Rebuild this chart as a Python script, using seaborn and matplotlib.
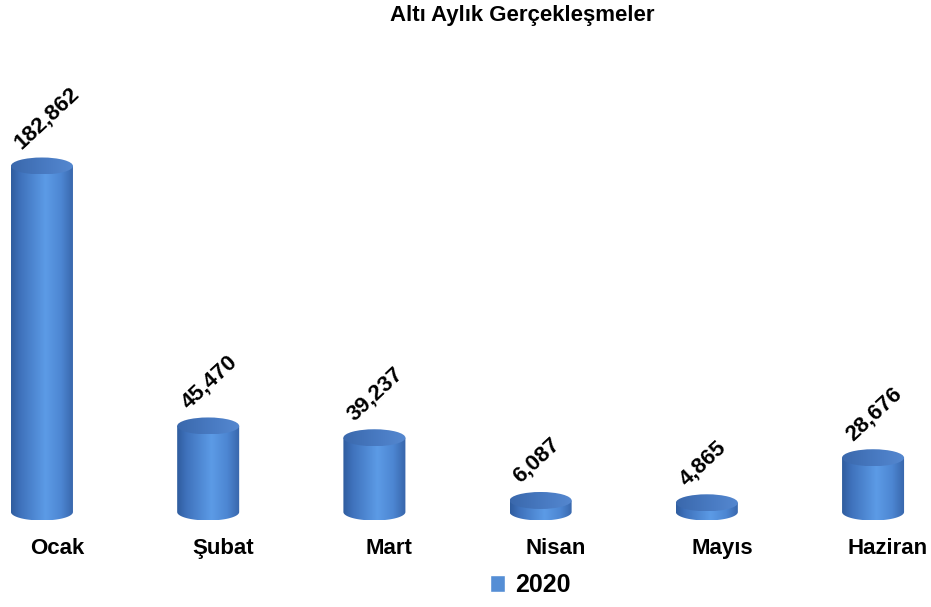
import numpy as np
import pandas as pd
import matplotlib
matplotlib.use("Agg")
import matplotlib.pyplot as plt
import seaborn as sns
from matplotlib.patches import Ellipse, PathPatch
from matplotlib.path import Path
from matplotlib.colors import LinearSegmentedColormap
from matplotlib.transforms import ScaledTranslation

months = ["Ocak", "Şubat", "Mart", "Nisan", "Mayıs", "Haziran"]
values = [182862, 45470, 39237, 6087, 4865, 28676]
year = ["2020"] * len(months)
title = "Altı Aylık Gerçekleşmeler"

df = pd.DataFrame({"Ay": months, "Değer": values, "Yıl": year})

sns.set_theme(style="white")
plt.rcParams["font.family"] = ["Liberation Sans", "DejaVu Sans"]

W, H = 931, 607
fig = plt.figure(figsize=(W / 100, H / 100), dpi=100)
ax = fig.add_axes([0, 77 / H, 1, 530 / H])

base = "#558ED5"
sns.barplot(data=df, x="Ay", y="Değer", hue="Yıl", palette={"2020": base},
            dodge=False, width=0.373, ax=ax, legend=True)

# scale: y=0 at pixel 512 from top, 528.5 units per pixel
upp = 528.5
ax.set_ylim(-18 * upp, 512 * upp)
spacing = 166.4
ax.set_xlim(-42 / spacing, 5 + (931 - 873) / spacing)

body_cmap = LinearSegmentedColormap.from_list(
    "body", [(0.0, "#2F5C9E"), (0.15, "#3F72BC"), (0.55, "#5C9BE6"),
             (0.8, "#4D86D2"), (1.0, "#3765AA")])
top_cmap = LinearSegmentedColormap.from_list(
    "top", [(0.0, "#3A68AC"), (0.6, "#4A7CC4"), (1.0, "#5588D0")])

eh = 17 * upp  # ellipse height in data units
grad = np.linspace(0, 1, 256).reshape(1, -1)

for bar in list(ax.patches):
    x0 = bar.get_x()
    w = bar.get_width()
    h = bar.get_height()
    if w == 0:
        continue
    cx = x0 + w / 2
    bar.set_facecolor("none")
    bar.set_edgecolor("none")
    # body path with rounded bottom
    t = np.linspace(np.pi, 2 * np.pi, 60)
    xs = cx + (w / 2) * np.cos(t)
    ys = (eh / 2) * np.sin(t)
    verts = list(zip(xs, ys)) + [(x0 + w, h), (x0, h), (xs[0], ys[0])]
    codes = [Path.MOVETO] + [Path.LINETO] * (len(verts) - 2) + [Path.CLOSEPOLY]
    body = PathPatch(Path(verts, codes), facecolor="none", edgecolor="none")
    ax.add_patch(body)
    im = ax.imshow(grad, cmap=body_cmap, extent=[x0, x0 + w, -eh / 2, h],
                   aspect="auto", zorder=2, interpolation="bicubic")
    im.set_clip_path(body)
    # top ellipse
    top = Ellipse((cx, h), w, eh, facecolor="none", edgecolor="none")
    ax.add_patch(top)
    im2 = ax.imshow(grad, cmap=top_cmap, extent=[x0, x0 + w, h - eh / 2, h + eh / 2],
                    aspect="auto", zorder=3, interpolation="bicubic")
    im2.set_clip_path(top)
    ax.annotate(f"{int(round(h)):,}", xy=(cx, h), xytext=(-17, 13),
                textcoords="offset pixels", rotation=43, rotation_mode="anchor",
                ha="left", va="bottom", fontsize=16, fontweight="bold",
                color="black", zorder=5)

ax.set_xlabel("")
ax.set_ylabel("")
ax.set_yticks([])
ax.tick_params(axis="x", length=0, pad=6, labelsize=16)
for lab in ax.get_xticklabels():
    lab.set_fontweight("bold")
    lab.set_color("black")
    lab.set_transform(lab.get_transform() + ScaledTranslation(0.15, 0, fig.dpi_scale_trans))
for s in ax.spines.values():
    s.set_visible(False)

sns.move_legend(ax, "center", bbox_to_anchor=(530 / W, 1 - 585 / H),
                bbox_transform=fig.transFigure, frameon=False, title=None,
                handlelength=0.6, handleheight=0.7, handletextpad=0.4,
                prop={"size": 18, "weight": "bold"})
leg = ax.get_legend()
for txt in leg.get_texts():
    txt.set_color("black")
for hnd in leg.legend_handles:
    hnd.set_facecolor(base)
    hnd.set_alpha(1)

fig.text(522 / W, 1 - 15 / H, title, ha="center", va="center",
         fontsize=16, fontweight="bold", color="black")

fig.savefig("out.png", dpi=100)
